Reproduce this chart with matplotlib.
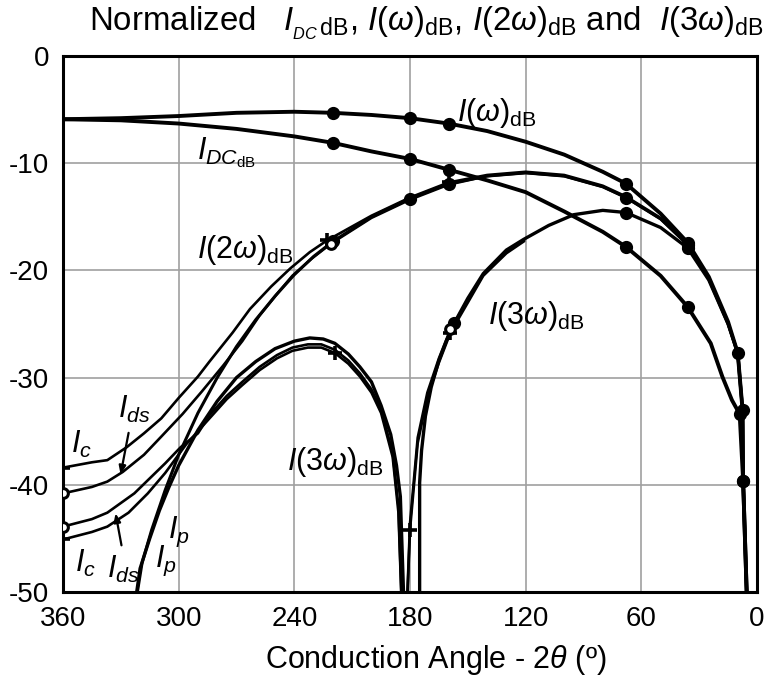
import numpy as np
import matplotlib
matplotlib.use("Agg")
import matplotlib.pyplot as plt

# ---------------- data (conduction angle in degrees, level in dB) ----------------
ang_i1 = [360, 330, 300, 270, 240, 220, 200, 180, 160, 140, 120, 100, 80, 68, 50, 36, 25, 15, 10, 7.5, 7.2, 5]
db_i1 = [-5.9, -5.8, -5.6, -5.3, -5.2, -5.3, -5.5, -5.8, -6.3, -7.0, -8.0, -9.2, -10.8, -11.9, -14.7, -17.4, -20.6, -24.8, -27.7, -33.0, -39.6, -52.0]

ang_dc = [360, 330, 300, 270, 240, 220, 200, 180, 160, 140, 120, 100, 80, 68, 50, 36, 24, 18, 13, 9, 7.2, 5]
db_dc = [-5.9, -6.0, -6.3, -6.8, -7.5, -8.1, -8.9, -9.6, -10.6, -11.6, -12.7, -14.5, -16.4, -17.8, -20.5, -23.4, -26.8, -29.9, -32.1, -33.4, -39.6, -52.0]

# second harmonic: ideal (Ip), collector model (Ic), drain model (Ids)
ang_p2 = [325, 319, 314, 307, 300, 290, 280, 270, 260, 250, 240, 230, 220, 200, 180, 160, 140, 120, 100, 80, 68, 50, 36, 25, 15, 10, 7.5, 7.2, 5]
db_p2 = [-54.0, -47.3, -44.2, -40.5, -37.2, -33.3, -30.0, -27.1, -24.6, -22.4, -20.4, -18.7, -17.3, -15.0, -13.3, -11.9, -11.2, -10.9, -11.2, -12.2, -13.2, -15.2, -17.6, -20.8, -25.0, -27.7, -33.0, -39.6, -52.0]

ang_c2 = [360, 345, 337, 327, 318, 309, 300, 290, 284, 272, 263, 252, 242, 232, 223, 200, 180, 160, 140, 120, 100, 80, 68, 50, 36]
db_c2 = [-38.4, -37.9, -37.7, -36.5, -35.2, -33.8, -31.9, -29.9, -28.5, -25.8, -23.6, -21.5, -19.8, -18.3, -17.2, -14.9, -13.2, -11.8, -11.1, -10.8, -11.1, -12.1, -13.1, -15.1, -17.5]

ang_ds2 = [360, 345, 337, 329, 318, 309, 298, 288, 277, 267, 258, 249, 241, 231, 221, 200, 180, 160, 140, 120, 100, 80, 68, 50, 36]
db_ds2 = [-40.8, -40.2, -39.7, -38.8, -37.2, -35.5, -33.4, -31.3, -28.9, -26.6, -24.2, -22.2, -20.5, -18.9, -17.5, -15.1, -13.4, -12.0, -11.2, -10.9, -11.2, -12.2, -13.2, -15.2, -17.6]

# third harmonic: ideal (Ip), collector model (Ic), drain model (Ids)
ang_p3 = [325, 320, 315, 310, 305, 300, 290, 280, 270, 260, 250, 240, 232, 225, 219, 212, 206, 200, 195, 190, 187, 185, 183, 179,
          175, 175, 174, 172, 169, 165, 161, 157, 150, 142, 130, 121, 108, 95, 80, 68, 50, 36, 25, 15, 10, 7.5, 7.2, 5]
db_p3 = [-54.0, -47.8, -45.0, -42.4, -40.2, -38.2, -34.9, -32.2, -30.0, -28.5, -27.3, -26.6, -26.3, -26.4, -26.8, -27.8, -29.0, -30.4, -32.6, -35.3, -38.2, -41.1, -52.0, -60.0,
         -60.0, -39.8, -36.8, -33.6, -30.9, -28.4, -26.5, -24.9, -22.6, -20.3, -18.1, -17.1, -15.8, -14.8, -14.4, -14.6, -16.0, -17.9, -20.9, -25.0, -27.7, -33.0, -39.6, -52.0]

ang_c3 = [360, 345, 337, 326, 316, 307, 296, 284, 275, 267, 258, 249, 241, 233, 226, 219, 212, 206, 200, 195, 189, 186, 183,
          180, 176, 171, 165, 159, 150, 142, 130, 121]
db_c3 = [-45.1, -44.4, -43.9, -42.6, -40.8, -38.9, -36.2, -33.8, -32.0, -30.7, -29.3, -28.2, -27.5, -27.2, -27.2, -27.7, -28.7, -29.9, -31.4, -33.3, -37.4, -42.6, -58.0,
         -44.2, -36.1, -31.8, -28.6, -25.8, -23.0, -20.5, -18.4, -17.3]

ang_ds3 = [360, 345, 337, 323, 315, 307, 299, 290, 284, 275, 267, 258, 249, 241, 233, 226, 219, 212, 206, 200, 195, 189, 186, 183,
           180, 176, 171, 165, 159, 150, 142, 130, 121]
db_ds3 = [-43.9, -43.2, -42.6, -40.8, -39.4, -38.0, -36.5, -35.2, -33.5, -31.7, -30.4, -29.0, -27.9, -27.2, -26.9, -26.9, -27.4, -28.4, -29.6, -31.1, -33.0, -37.0, -42.0, -58.0,
          -43.6, -35.6, -31.4, -28.2, -25.5, -22.8, -20.4, -18.3, -17.2]

x_ticks = [360, 300, 240, 180, 120, 60, 0]
y_ticks = [0, -10, -20, -30, -40, -50]

# marker positions (angles)
mk_i1 = [220, 180, 160, 68, 36, 10, 7.5, 7.2]
mk_dc = [220, 180, 160, 68, 36, 9, 7.2]
mk_p2 = [220, 180, 160, 68, 36]
mk_c2 = [360, 223, 160]
mk_ds2 = [360, 221]
mk_p3 = [157, 68, 36]
mk_c3 = [360, 219, 180, 159]
mk_ds3 = [360, 159]

# ---------------- style ----------------
plt.rcParams['font.family'] = ['Liberation Sans', 'DejaVu Sans']
plt.rcParams['mathtext.fontset'] = 'custom'
plt.rcParams['mathtext.rm'] = 'Liberation Sans'
plt.rcParams['mathtext.it'] = 'Liberation Sans:italic'
plt.rcParams['mathtext.bf'] = 'Liberation Sans:bold'

W, H = 766, 682
fig = plt.figure(figsize=(W / 100, H / 100), dpi=100)
ax = fig.add_axes([63 / W, 1 - 592 / H, (757 - 63) / W, (592 - 56) / H])
ax.set_xlim(360, 0)
ax.set_ylim(-50, 0)
ax.set_xticks(x_ticks)
ax.set_yticks(y_ticks)
ax.set_xticklabels([str(t) for t in x_ticks])
ax.set_yticklabels([str(t) for t in y_ticks])
ax.tick_params(length=0, labelsize=20, pad=10)
ax.grid(True, color='#a0a0a0', lw=1.2)
ax.set_axisbelow(True)
for s in ax.spines.values():
    s.set_linewidth(2.2)
    s.set_color('black')


def idx(ang, marks):
    return [i for i, a in enumerate(ang) if a in marks]


def curve(ang, db, marks, lw, marker, ms, mfc='black', mew=1.5):
    ax.plot(ang, db, color='black', lw=lw, marker=marker, markevery=idx(ang, marks),
            ms=ms, mfc=mfc, mec='black', mew=mew, solid_joinstyle='round', clip_on=True, zorder=3)


curve(ang_i1, db_i1, mk_i1, 2.8, 'o', 8)
curve(ang_dc, db_dc, mk_dc, 2.8, 'o', 8)
curve(ang_p2, db_p2, mk_p2, 2.2, 'o', 8)
curve(ang_c2, db_c2, mk_c2, 1.9, '+', 10, mew=2.6)
curve(ang_ds2, db_ds2, mk_ds2, 1.9, 'o', 7, mfc='white', mew=2.2)
curve(ang_p3, db_p3, mk_p3, 2.4, 'o', 8)
curve(ang_c3, db_c3, mk_c3, 1.9, '+', 10, mew=2.6)
curve(ang_ds3, db_ds3, mk_ds3, 1.9, 'o', 7, mfc='white', mew=2.2)

# ---------------- labels ----------------
lab = dict(fontsize=22, color='black', va='center', ha='left', zorder=5)
ax.text(155.6, -5.3, r'$I(\omega)_{\mathrm{dB}}$', **lab)
ax.text(290.5, -9.0, r'$I_{DC_{\mathrm{dB}}}$', **lab)
ax.text(290.5, -18.1, r'$I(2\omega)_{\mathrm{dB}}$', **lab)
ax.text(139.5, -24.3, r'$I(3\omega)_{\mathrm{dB}}$', **lab)
ax.text(243.8, -37.9, r'$I(3\omega)_{\mathrm{dB}}$', **lab)
ax.text(356.0, -36.2, r'$I_c$', **lab)
ax.text(331.4, -33.0, r'$I_{ds}$', **lab)
ax.text(353.7, -47.3, r'$I_c$', **lab)
ax.text(337.0, -47.9, r'$I_{ds}$', **lab)
ax.text(305.5, -44.4, r'$I_p$', **lab)
ax.text(312.2, -47.1, r'$I_p$', **lab)
arrow = dict(arrowstyle='-|>,head_length=0.5,head_width=0.2', color='black', lw=1.6)
ax.annotate('', xy=(330.4, -39.3), xytext=(325.7, -34.9), arrowprops=arrow, zorder=5)
ax.annotate('', xy=(333.0, -42.4), xytext=(329.4, -45.9), arrowprops=arrow, zorder=5)

fig.text(426 / W, 1 - 23 / H,
         r'Normalized   $I_{{}_{DC}\,\mathrm{dB}}$, $I(\omega)_{\mathrm{dB}}$, $I(2\omega)_{\mathrm{dB}}$ and  $I(3\omega)_{\mathrm{dB}}$',
         ha='center', va='center', fontsize=23.8)
fig.text(436 / W, 1 - 660 / H, r'Conduction Angle - 2$\theta$ (º)', ha='center', va='center', fontsize=22)

fig.savefig('out.png', dpi=100)
